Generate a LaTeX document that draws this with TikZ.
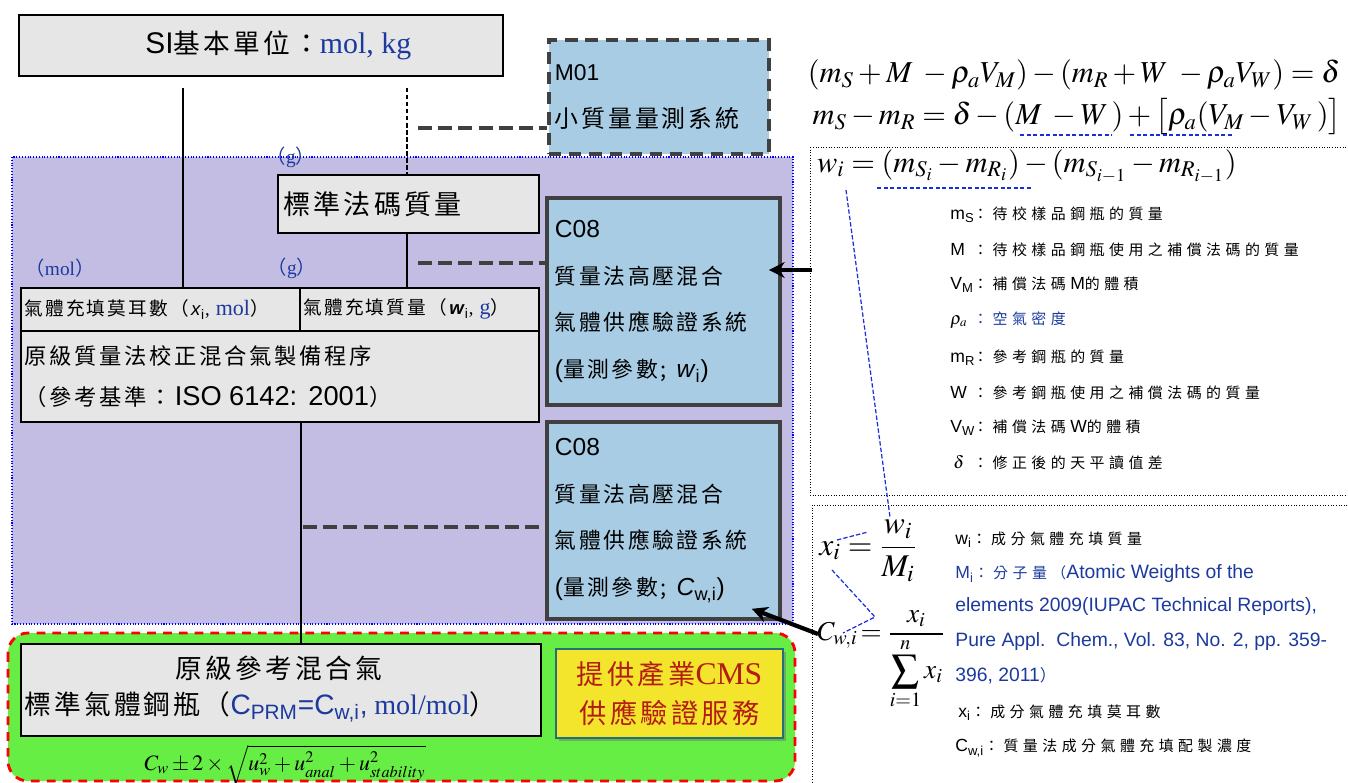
\documentclass[tikz,border=0pt]{standalone}
\usepackage{mathptmx}
\usepackage[no-math]{fontspec}
\setmainfont{Liberation Serif}
\setsansfont{Liberation Sans}
\newfontfamily\cjk{Noto Sans CJK TC}[LetterSpace=12]
\newfontfamily\cjklist{Noto Sans CJK TC}[LetterSpace=30,Scale=0.85]
\usetikzlibrary{arrows.meta,shapes,shadows,calc}
\definecolor{lavender}{HTML}{C3BDE4}
\definecolor{skyfill}{HTML}{A7CCE4}
\definecolor{boxgray}{HTML}{E6E6E6}
\definecolor{linegray}{HTML}{404040}
\definecolor{molblue}{HTML}{1C3A9E}
\definecolor{traceblue}{HTML}{1A2FD8}
\definecolor{gasgreen}{HTML}{66EE44}
\definecolor{cmsred}{HTML}{B41C14}
\definecolor{cmsyellow}{HTML}{F2E52C}
\definecolor{cmsteal}{HTML}{23707C}
\newcommand\fs[2]{\fontsize{#1}{#2}\selectfont}
\newcommand\gloss[1]{{\cjklist ：#1}}
\tikzstyle{graybox}=[draw=black,line width=1pt,fill=boxgray,anchor=north west,inner sep=0pt]
\tikzstyle{sysbox}=[draw=linegray,line width=2.2pt,fill=skyfill,anchor=north west,align=left,inner ysep=0pt]
\tikzstyle{cmsbox}=[draw=cmsteal,line width=1.2pt,fill=cmsyellow,anchor=north west,align=center,text=cmsred,drop shadow={shadow xshift=1.5pt,shadow yshift=-1.5pt,fill=black!55}]
\tikzstyle{link}=[draw,line width=0.8pt]
\tikzstyle{weaklink}=[draw,line width=0.8pt,dash pattern=on 2.5pt off 1.5pt]
\tikzstyle{syslink}=[draw=linegray,line width=2.6pt,dash pattern=on 8pt off 3.5pt]
\tikzstyle{pointer}=[draw,line width=2.4pt,-{Stealth[length=9pt,width=9pt]}]
\tikzstyle{trace}=[draw=traceblue,line width=0.7pt,dash pattern=on 2.5pt off 1.2pt]
\tikzstyle{unitlabel}=[text=molblue,font=\fs{11}{13}]
\tikzstyle{deftext}=[anchor=west,inner sep=0pt,font=\fs{10}{12}\sffamily]
\tikzstyle{formula}=[font=\fs{17.3}{19},inner sep=1pt]

\begin{document}
\begin{tikzpicture}[x=0.02cm,y=-0.02cm]
    \useasboundingbox (0,0) rectangle (1348,783);

    % background areas
    \path[fill=lavender,draw=blue,densely dotted,line width=0.6pt] (12,157) rectangle (793,624);
    \path[fill=gasgreen,draw=red,line width=1.6pt,dash pattern=on 5pt off 4pt,rounded corners=0.4cm] (8,633) rectangle (795,781);
    \draw[densely dotted,line width=0.5pt] (810,147) rectangle (1356,495);
    \draw[densely dotted,line width=0.5pt] (812,505) rectangle (1356,790);

    % left column
    \node[graybox,minimum width=9.68cm,minimum height=1.22cm,font=\fs{15.2}{18}] (si) at (18,14)
        {\hspace*{0.7cm}\textsf{\fs{17}{18}SI}{\cjk 基本單位：}\textcolor{molblue}{\fs{17}{18}mol, kg}};
    \node[graybox,minimum width=5.22cm,minimum height=1.16cm,text width=5.0cm,inner xsep=0.11cm,align=left,font=\fs{15.4}{18}] (std) at (277,174)
        {\cjk 標準法碼質量};
    \node[graybox,minimum width=5.58cm,minimum height=0.86cm,text width=5.44cm,inner xsep=0.07cm,align=left,font=\fs{10.6}{12}] (cellL) at (20,287)
        {{\cjk 氣體充填莫耳數（}\textsf{\textit{x}\textsubscript{i}}, \textcolor{molblue}{\fs{12.5}{12}mol}{\cjk ）}};
    \node[graybox,minimum width=4.78cm,minimum height=0.86cm,text width=4.64cm,inner xsep=0.07cm,align=left,font=\fs{10.6}{12}] (cellR) at (299,287)
        {{\cjk 氣體充填質量（}\textsf{\textbf{\textit{w}}\textsubscript{i}}, \textcolor{molblue}{\fs{12.5}{12}g}{\cjk ）}};
    \node[graybox,minimum width=10.36cm,minimum height=1.82cm,text width=10.2cm,inner xsep=0.08cm,align=left,font=\fs{12.7}{23.2}] (prep) at (20,330)
        {{\cjk 原級質量法校正混合氣製備程序}\\{\cjk （參考基準：}\textsf{\fs{15.5}{23.2}ISO 6142: 2001}{\cjk ）}};
    \node[graybox,minimum width=10.4cm,minimum height=1.84cm] (prm) at (20,643) {};
    \node[font=\fs{15.2}{18}] (prmA) at (279,668) {\cjk 原級參考混合氣};
    \node[anchor=west,inner sep=0pt,font=\fs{15.2}{18}] (prmB) at (24,707)
        {{\cjk 標準氣體鋼瓶（}\textcolor{molblue}{\textsf{\fs{16}{18}C\textsubscript{PRM}=C\textsubscript{w,i},} \fs{16}{18}mol/mol}{\cjk ）}};
    \node[font=\fs{12.5}{15},inner sep=0pt] (unc) at (285,765) {$C_w \pm 2\times\sqrt{u_w^2+u_{anal}^2+u_{stability}^2}$};

    \node[unitlabel] (gTopLbl) at (291,157) {{\cjk （}g{\cjk ）}};
    \node[unitlabel] (molLbl) at (60,268) {{\cjk （}mol{\cjk ）}};
    \node[unitlabel] (gLbl) at (292,268) {{\cjk （}g{\cjk ）}};

    % measurement systems
    \node[sysbox,dash pattern=on 7pt off 4.5pt,minimum width=4.4cm,minimum height=2.28cm,text width=4.16cm,inner xsep=0.12cm,font=\fs{13.6}{26.6}] (m01) at (547,38)
        {\textsf{\fs{13}{26.6}M01}\\{\cjk 小質量量測系統}};
    \node[sysbox,minimum width=4.66cm,minimum height=4.14cm,text width=4.34cm,inner xsep=0.16cm,font=\fs{12.4}{26.6}] (c08a) at (545,196)
        {\textsf{\fs{14}{26.6}C08}\\{\cjk 質量法高壓混合}\\{\cjk 氣體供應驗證系統}\\\textsf{\fs{14}{26.6}(}{\cjk 量測參數;} \textsf{\fs{14}{26.6}\textit{w}\textsubscript{i})}};
    \node[sysbox,minimum width=4.66cm,minimum height=3.94cm,text width=4.34cm,inner xsep=0.16cm,font=\fs{12.4}{26.6}] (c08b) at (545,420)
        {\textsf{\fs{14}{26.6}C08}\\{\cjk 質量法高壓混合}\\{\cjk 氣體供應驗證系統}\\\textsf{\fs{14}{26.6}(}{\cjk 量測參數;} \textsf{\fs{14}{26.6}\textit{C}\textsubscript{w,i})}};
    \node[cmsbox,minimum width=4.54cm,minimum height=1.78cm,font=\fs{15.5}{22}] (cms) at (555,648)
        {{\cjk 提供產業}\fs{18}{22}CMS\\{\cjk 供應驗證服務}};

    % traceability lines
    \coordinate (molTop) at (183,88);
    \coordinate (gTop) at (407,88);
    \coordinate (m01Tap) at (418,128);
    \coordinate (c08aTap) at (418,263);
    \coordinate (c08bTap) at (303,527);
    \draw[link] (molTop) -- (molTop |- cellL.north);
    \draw[weaklink] (gTop) -- (gTop |- std.north);
    \draw[link] (gTop |- std.south) -- (gTop |- cellR.north);
    \draw[link] ([xshift=5.62cm]prep.south west) -- ([xshift=5.62cm]prm.north west);
    \draw[syslink] (m01Tap) -- (m01Tap -| m01.west);
    \draw[syslink] (c08aTap) -- (c08aTap -| c08a.west);
    \draw[syslink] (c08bTap) -- (c08bTap -| c08b.west);

    % weighing equations
    \node[formula] (balance) at (1074,75) {$(m_S + M\; - \rho_a V_M) - (m_R + W\; - \rho_a V_W) = \delta$};
    \node[formula] (diffm) at (1077,117) {$m_S - m_R = \delta - (M\; - W\,) + \bigl[\rho_a(V_M - V_W\,)\bigr]$};
    \node[formula,anchor=west] (wi) at (815,166) {$w_i = (m_{S_i} - m_{R_i}) - (m_{S_{i-1}} - m_{R_{i-1}})$};
    \draw[trace] (1020,135) -- (1112,135);
    \draw[trace] (1130,135) -- (1234,135);
    \draw[trace] (877,188) -- (1032,188);

    \foreach \yy/\lab/\txt [count=\k] in {
        215/{m\textsubscript{S}}/{\gloss{待校樣品鋼瓶的質量}},
        250/{M}/{\gloss{待校樣品鋼瓶使用之補償法碼的質量}},
        285/{V\textsubscript{M}}/{\gloss{補償法碼\textsf{M}的體積}},
        320/{$\rho_a$}/{\color{molblue}\gloss{空氣密度}},
        358/{m\textsubscript{R}}/{\gloss{參考鋼瓶的質量}},
        393/{W}/{\gloss{參考鋼瓶使用之補償法碼的質量}},
        428/{V\textsubscript{W}}/{\gloss{補償法碼\textsf{W}的體積}},
        463/{\,$\delta$}/{\gloss{修正後的天平讀值差}}}
        \node[deftext] (sym\k) at (950,\yy) {\makebox[13pt][l]{\lab}\txt};

    % mole fraction
    \node[font=\fs{18}{20},inner sep=0pt] (xfrac) at (868,551) {$\displaystyle x_i = \frac{w_i}{M_i}$};
    \node[font=\fs{15.5}{18},inner sep=0pt,anchor=west] (cfrac) at (817,660) {$\displaystyle C_{w,i}\! = \frac{x_i}{\displaystyle\sum_{i=1}^{n} x_i}$};
    \draw[trace] (846,190) -- (890,517);
    \draw[trace] (837,540) -- (868,532);
    \draw[trace] (832,570) -- (875,617) -- (843,633);

    \node[deftext] (g1) at (955,540) {w\textsubscript{i}\gloss{成分氣體充填質量}};
    \node[deftext,text=molblue] (g2) at (955,574) {M\textsubscript{i}\gloss{分子量（}\fs{11}{13}Atomic Weights of the};
    \node[deftext,text=molblue] (g3) at (955,607) {\fs{11}{13}elements 2009(IUPAC Technical Reports),};
    \node[deftext,text=molblue] (g4) at (955,641) {\fs{11}{13}Pure Appl.\ \ Chem., Vol. 83, No. 2, pp. 359-};
    \node[deftext,text=molblue] (g5) at (955,676) {\fs{11}{13}396, 2011{\cjklist ）}};
    \node[deftext] (g6) at (958,713) {x\textsubscript{i}\gloss{成分氣體充填莫耳數}};
    \node[deftext] (g7) at (955,748) {C\textsubscript{w,i}\gloss{質量法成分氣體充填配製濃度}};

    % inputs to the C08 systems
    \coordinate (defIn) at (812,270);
    \coordinate (cwIn) at (818,634);
    \draw[pointer] (defIn) -- ($(defIn -| c08a.east)+(-13,0)$);
    \draw[pointer] (cwIn) -- ($(c08b.south east)+(-30,-12)$);

\end{tikzpicture}
\end{document}
